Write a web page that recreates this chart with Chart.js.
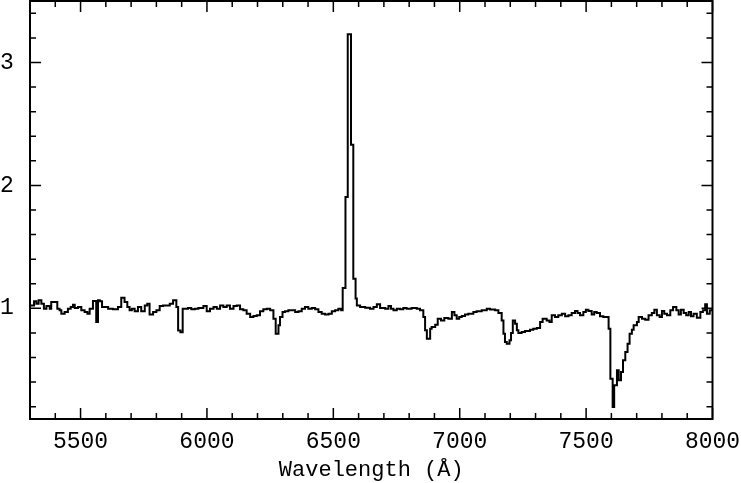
<!DOCTYPE html>
<html><head><meta charset="utf-8">
<script src="https://cdn.jsdelivr.net/npm/chart.js@4.4.1/dist/chart.umd.min.js"></script>
<style>html,body{margin:0;padding:0;background:#fff;} #wrap{width:741px;height:483px;}</style>
</head><body><div id="wrap"><canvas id="c" width="741" height="483"></canvas></div>
<script>
const wavelengths = [
5300,5316,5325,5334,5345,5355,5365,5378,5384,5408,5417,5424,5437,5450,5461,5470,5477,5490,5503,5516,
5527,5536,5549,5562,5569,5576,5585,5609,5628,5648,5661,5674,5685,5694,5703,5714,5727,5740,5754,5764,
5773,5787,5800,5813,5826,5839,5853,5866,5879,5886,5895,5904,5925,5938,5952,5966,5986,5999,6012,6026,
6039,6052,6065,6078,6091,6105,6118,6131,6144,6157,6171,6184,6197,6210,6223,6237,6250,6263,6272,6283,
6289,6299,6309,6322,6336,6349,6362,6375,6388,6401,6415,6428,6441,6454,6467,6481,6494,6507,6520,6531,
6537,6548,6557,6570,6579,6588,6593,6606,6626,6645,6659,6672,6685,6705,6718,6728,6738,6751,6764,6777,
6790,6810,6830,6843,6856,6863,6870,6883,6889,6903,6913,6926,6939,6955,6969,6979,6988,6998,7008,7021,
7034,7054,7067,7087,7107,7120,7140,7153,7166,7173,7179,7186,7197,7203,7210,7219,7226,7232,7245,7258,
7278,7291,7305,7318,7328,7344,7355,7364,7377,7390,7404,7417,7430,7443,7456,7466,7476,7489,7499,7509,
7522,7532,7542,7555,7568,7589,7596,7605,7611,7622,7629,7638,7646,7655,7664,7672,7681,7688,7701,7708,
7721,7734,7747,7760,7770,7780,7791,7800,7809,7820,7833,7844,7857,7866,7875,7886,7896,7906,7915,7925,
7938,7952,7962,7971,7978,7989,8000];
const flux = [
1.024,1.057,1.038,1.065,1.038,0.997,1.019,0.997,1.051,0.997,0.984,0.957,0.970,0.997,1.011,1.030,1.003,1.011,0.984,0.970,
0.957,0.997,1.060,0.889,1.065,1.057,1.011,0.997,0.992,1.011,1.087,1.051,1.011,0.984,0.997,0.976,1.011,0.976,1.024,1.038,
0.949,0.970,0.984,1.019,1.024,1.024,1.038,1.065,1.011,0.820,0.805,0.997,1.003,0.992,0.997,1.003,1.019,0.976,0.997,1.011,
0.997,1.024,1.011,1.024,0.997,1.019,1.024,0.992,0.984,0.957,0.930,0.938,0.943,0.976,0.992,0.997,0.984,0.916,0.794,0.862,
0.930,0.970,0.976,0.984,0.984,0.970,0.976,0.997,1.011,0.997,1.003,0.992,0.970,0.957,0.949,0.957,0.976,0.984,0.997,0.984,
1.165,1.905,3.230,2.330,1.240,1.080,1.024,1.011,1.005,0.997,1.011,1.033,1.003,0.997,1.019,0.997,0.984,0.997,0.992,1.003,
0.997,1.003,0.997,0.984,0.930,0.821,0.753,0.835,0.848,0.867,0.916,0.902,0.921,0.916,0.970,0.943,0.916,0.930,0.938,0.949,
0.957,0.970,0.976,0.984,0.997,0.990,0.984,0.962,0.902,0.794,0.726,0.713,0.740,0.799,0.902,0.875,0.821,0.799,0.808,0.816,
0.826,0.835,0.840,0.889,0.916,0.902,0.889,0.943,0.930,0.943,0.957,0.935,0.943,0.962,0.978,0.962,0.943,0.970,0.989,0.978,
0.951,0.970,0.962,0.935,0.930,0.835,0.428,0.198,0.374,0.496,0.415,0.482,0.577,0.645,0.713,0.794,0.826,0.862,0.889,0.930,
0.916,0.908,0.943,0.962,0.989,0.943,0.930,0.978,0.957,0.943,0.984,1.011,0.984,0.951,0.989,0.962,0.943,0.970,0.935,0.957,
0.924,0.970,0.984,1.033,0.957,0.984,0.984];

const xMajorTicks = [5500,6000,6500,7000,7500,8000];
const xMinorTicks = [5400,5600,5700,5800,5900,6100,6200,6300,6400,6600,6700,6800,6900,7100,7200,7300,7400,7600,7700,7800,7900];
const yMajorTicks = [1,2,3];
const yMinorTicks = [0.2,0.4,0.6,0.8,1.2,1.4,1.6,1.8,2.2,2.4,2.6,2.8,3.2,3.4];
const xTitle = 'Wavelength (Å)';

const points = wavelengths.map((w,i)=>({x:w,y:flux[i]}));

const frameTicks = {
  id:'frameTicks',
  afterDraw(chart){
    const {ctx, chartArea:a, scales:{x,y}} = chart;
    ctx.save();
    ctx.strokeStyle='#000';
    ctx.lineWidth=1.5;
    ctx.beginPath();
    const xt = (v,len)=>{const p=x.getPixelForValue(v);
      ctx.moveTo(p,a.bottom);ctx.lineTo(p,a.bottom-len);
      ctx.moveTo(p,a.top);ctx.lineTo(p,a.top+len);};
    const yt = (v,len)=>{const p=y.getPixelForValue(v);
      ctx.moveTo(a.left,p);ctx.lineTo(a.left+len,p);
      ctx.moveTo(a.right,p);ctx.lineTo(a.right-len,p);};
    xMajorTicks.forEach(v=>xt(v,11)); xMinorTicks.forEach(v=>xt(v,6));
    yMajorTicks.forEach(v=>yt(v,11)); yMinorTicks.forEach(v=>yt(v,6));
    ctx.stroke();
    ctx.lineWidth=2;
    ctx.strokeRect(a.left,a.top,a.right-a.left,a.bottom-a.top);
    ctx.restore();
  }
};

new Chart(document.getElementById('c'),{
  type:'line',
  data:{datasets:[{data:points,stepped:true,borderColor:'#000',borderWidth:2,pointRadius:0,fill:false}]},
  options:{
    responsive:false,animation:false,devicePixelRatio:1,
    layout:{padding:{top:1,right:28.5,left:0,bottom:0}},
    plugins:{legend:{display:false},tooltip:{enabled:false}},
    scales:{
      x:{type:'linear',min:5300,max:8000,
        afterBuildTicks(s){s.ticks=xMajorTicks.map(v=>({value:v}));},
        afterFit(s){s.height=64;s.paddingLeft=0;s.paddingRight=0;},
        grid:{display:false,drawTicks:false},border:{display:false},
        ticks:{autoSkip:false,maxRotation:0,padding:9,color:'#000',font:{family:'Liberation Mono',size:23},callback:v=>String(v)},
        title:{display:true,text:xTitle,color:'#000',font:{family:'Liberation Mono',size:22},padding:{top:0,bottom:0}}
      },
      y:{type:'linear',min:0.1,max:3.5,
        afterBuildTicks(s){s.ticks=yMajorTicks.map(v=>({value:v}));},
        afterFit(s){s.width=30;s.paddingTop=0;s.paddingBottom=0;},
        grid:{display:false,drawTicks:false},border:{display:false},
        ticks:{crossAlign:'far',padding:0,color:'#000',font:{family:'Liberation Mono',size:23},callback:v=>String(v)}
      }
    }
  },
  plugins:[frameTicks]
});
</script></body></html>
